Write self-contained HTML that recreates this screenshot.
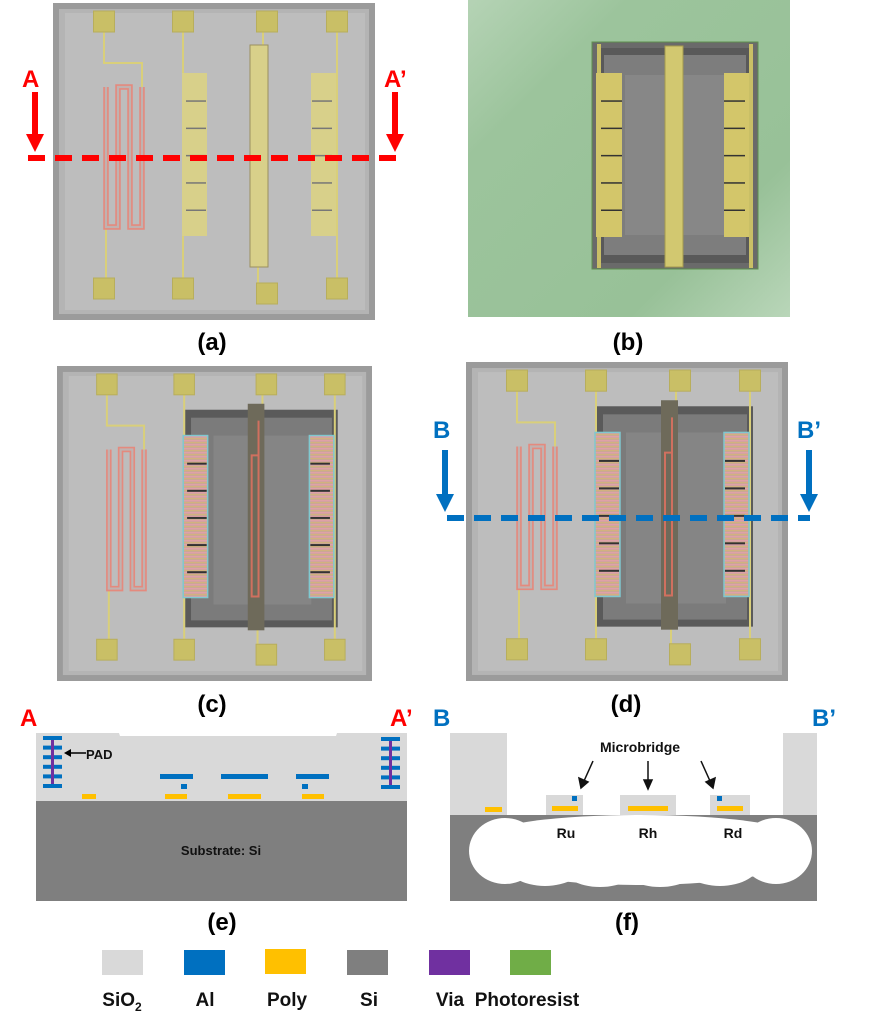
<!DOCTYPE html>
<html><head><meta charset="utf-8"><style>
html,body{margin:0;padding:0;background:#fff}
svg{display:block}
text{font-family:"Liberation Sans",Arial,sans-serif;font-weight:bold}
</style></head><body>
<svg id="s" width="870" height="1017" viewBox="0 0 870 1017" xmlns="http://www.w3.org/2000/svg">
<defs>
<linearGradient id="grn" x1="0" y1="0" x2="1" y2="1">
<stop offset="0" stop-color="#b5d3b5"/><stop offset="0.25" stop-color="#9cc49c"/><stop offset="0.75" stop-color="#98c198"/><stop offset="1" stop-color="#b9d6b9"/></linearGradient>
<pattern id="stripe" width="6" height="4" patternUnits="userSpaceOnUse">
<rect width="6" height="4" fill="#c9a59a"/><rect y="0" width="6" height="1.4" fill="#e0a0a8"/><rect y="2" width="6" height="1.2" fill="#d2b27e"/></pattern>
</defs>
<g id="g"></g>
<text x="212" y="350" font-size="24" text-anchor="middle">(a)</text>
<text x="628" y="350" font-size="24" text-anchor="middle">(b)</text>
<text x="212" y="712" font-size="24" text-anchor="middle">(c)</text>
<text x="626" y="712" font-size="24" text-anchor="middle">(d)</text>
<text x="222" y="930" font-size="24" text-anchor="middle">(e)</text>
<text x="627" y="930" font-size="24" text-anchor="middle">(f)</text>

<g fill="#f00" stroke="none">
<text x="22" y="87" font-size="24" fill="#f00">A</text>
<text x="384" y="87" font-size="24" fill="#f00">A’</text>
<rect x="32" y="92" width="6" height="44"/><polygon points="26,134 44,134 35,152"/>
<rect x="392" y="92" width="6" height="44"/><polygon points="386,134 404,134 395,152"/>
</g>
<line x1="28" y1="158" x2="402" y2="158" stroke="#f00" stroke-width="6" stroke-dasharray="17,10"/>

<g fill="#0070c0">
<text x="433" y="438" font-size="24" fill="#0070c0">B</text>
<text x="797" y="438" font-size="24" fill="#0070c0">B’</text>
<rect x="442" y="450" width="6" height="46"/><polygon points="436,494 454,494 445,512"/>
<rect x="806" y="450" width="6" height="46"/><polygon points="800,494 818,494 809,512"/>
</g>
<line x1="447" y1="518" x2="810" y2="518" stroke="#0070c0" stroke-width="6" stroke-dasharray="17,10"/>

<!-- (e) -->
<text x="20" y="726" font-size="24" fill="#f00">A</text>
<text x="390" y="726" font-size="24" fill="#f00">A’</text>
<polygon points="36,733 119,733 120,736 336,736 337,733 407,733 407,801 36,801" fill="#d9d9d9"/>
<rect x="36" y="801" width="371" height="100" fill="#7f7f7f"/>
<text x="221" y="855" font-size="13" text-anchor="middle" fill="#111">Substrate: Si</text>
<g id="pads"></g>
<g fill="#0070c0">
<rect x="160" y="774" width="33" height="5"/><rect x="221" y="774" width="47" height="5"/><rect x="296" y="774" width="33" height="5"/>
<rect x="181" y="784" width="6" height="5"/><rect x="302" y="784" width="6" height="5"/>
</g>
<g fill="#ffc000">
<rect x="82" y="794" width="14" height="5"/><rect x="165" y="794" width="22" height="5"/><rect x="228" y="794" width="33" height="5"/><rect x="302" y="794" width="22" height="5"/>
</g>
<line x1="86" y1="753" x2="68" y2="753" stroke="#000" stroke-width="1.5"/><polygon points="64,753 71,749 71,757" fill="#000"/>
<text x="86" y="759" font-size="13" fill="#111">PAD</text>

<!-- (f) -->
<text x="433" y="726" font-size="24" fill="#0070c0">B</text>
<text x="812" y="726" font-size="24" fill="#0070c0">B’</text>
<rect x="450" y="733" width="57" height="83" fill="#d9d9d9"/>
<rect x="783" y="733" width="34" height="83" fill="#d9d9d9"/>
<rect x="450" y="815" width="367" height="86" fill="#7f7f7f"/>
<g fill="#fff">
<ellipse cx="640" cy="852" rx="168" ry="33"/>
<ellipse cx="505" cy="851" rx="36" ry="33"/><ellipse cx="776" cy="851" rx="36" ry="33"/>
<ellipse cx="545" cy="862" rx="40" ry="24"/><ellipse cx="600" cy="864" rx="40" ry="23"/>
<ellipse cx="660" cy="864" rx="40" ry="23"/><ellipse cx="720" cy="862" rx="40" ry="24"/>
<ellipse cx="640" cy="835" rx="150" ry="20"/>
</g>
<g fill="#d9d9d9">
<rect x="546" y="795" width="37" height="20"/><rect x="620" y="795" width="56" height="20"/><rect x="710" y="795" width="40" height="20"/>
</g>
<g fill="#ffc000">
<rect x="552" y="806" width="26" height="5"/><rect x="628" y="806" width="40" height="5"/><rect x="717" y="806" width="26" height="5"/><rect x="485" y="807" width="17" height="5"/>
</g>
<g fill="#0070c0"><rect x="572" y="796" width="5" height="5"/><rect x="717" y="796" width="5" height="5"/></g>
<text x="640" y="752" font-size="14" text-anchor="middle" fill="#111">Microbridge</text>
<g stroke="#111" stroke-width="1.5" fill="#111">
<line x1="593" y1="761" x2="584" y2="781"/><polygon points="581,788 579,778 588,782"/>
<line x1="648" y1="761" x2="648" y2="781"/><polygon points="648,789 644,780 652,780"/>
<line x1="701" y1="761" x2="710" y2="781"/><polygon points="713,788 706,782 715,778"/>
</g>
<text x="566" y="838" font-size="14" text-anchor="middle" fill="#111">Ru</text>
<text x="648" y="838" font-size="14" text-anchor="middle" fill="#111">Rh</text>
<text x="733" y="838" font-size="14" text-anchor="middle" fill="#111">Rd</text>

<rect x="102" y="950" width="41" height="25" fill="#d9d9d9"/>
<rect x="184" y="950" width="41" height="25" fill="#0070c0"/>
<rect x="265" y="949" width="41" height="25" fill="#ffc000"/>
<rect x="347" y="950" width="41" height="25" fill="#7f7f7f"/>
<rect x="429" y="950" width="41" height="25" fill="#7030a0"/>
<rect x="510" y="950" width="41" height="25" fill="#70ad47"/>
<g font-size="19" fill="#111" text-anchor="middle">
<text x="122" y="1006">SiO<tspan font-size="12" dy="5">2</tspan></text>
<text x="205" y="1006">Al</text>
<text x="287" y="1006">Poly</text>
<text x="369" y="1006">Si</text>
<text x="450" y="1006">Via</text>
<text x="527" y="1006">Photoresist</text>
</g>
</svg>
<script>
var g=document.getElementById('g'),h='';
function R(x,y,w,hh,f,extra){h+='<rect x="'+x+'" y="'+y+'" width="'+w+'" height="'+hh+'" fill="'+f+'" '+(extra||'')+'/>';}
function L(p,c,w){h+='<polyline points="'+p+'" fill="none" stroke="'+c+'" stroke-width="'+w+'"/>';}
function chip(ox,oy,W,H,mode){
 var sx=W/322,sy=H/317;
 function X(v){return ox+v*sx;} function Y(v){return oy+v*sy;}
 R(ox,oy,W,H,'#9b9b9b');R(X(6),Y(6),W-12*sx,H-12*sy,'#b4b4b4');R(X(12),Y(10),W-22*sx,H-20*sy,'#bdbdbd');
 var yel='#d8d08a',yel2='#c9bf66';
 if(mode!='a'){
  R(X(131),Y(44),156*sx,219*sy,'#5a5a5a');R(X(137),Y(52),144*sx,204*sy,'#7b7b7b');R(X(160),Y(70),100*sx,170*sy,'#858585');
 }
 var tc='#d9cf7a';
 L([X(51),Y(29),X(51),Y(60),X(89),Y(60),X(89),Y(84)].join(','),tc,2);
 L([X(53),Y(224),X(53),Y(278)].join(','),tc,2);
 L([X(130),Y(29),X(130),Y(290)].join(','),tc,2);
 L([X(284),Y(29),X(284),Y(290)].join(','),tc,2);
 L([X(210),Y(29),X(210),Y(45)].join(','),tc,2);
 L([X(205),Y(260),X(205),Y(282)].join(','),tc,2);
 var P=[[89,84],[89,224],[77,224],[77,84],[65,84],[65,224],[53,224],[53,84]];
 var s='';for(var k=0;k<P.length;k++)s+=X(P[k][0])+','+Y(P[k][1])+' ';
 h+='<polyline points="'+s+'" fill="none" stroke="#e48a7e" stroke-width="5.5" stroke-linejoin="miter"/>';
 h+='<polyline points="'+s+'" fill="none" stroke="#c0b2b0" stroke-width="2.2" stroke-linejoin="miter"/>';
 if(mode=='a'){
  R(X(129),Y(70),25*sx,163*sy,yel);R(X(258),Y(70),25*sx,163*sy,yel);
  for(var j=1;j<6;j++){R(X(133),Y(70+j*27.3),20*sx,1.5,'#777');R(X(259),Y(70+j*27.3),20*sx,1.5,'#777');}
  R(X(197),Y(42),18*sx,222*sy,yel,'stroke="#9a9060" stroke-width="1"');
 }else{
  R(X(129),Y(70),25*sx,163*sy,'url(#stripe)','stroke="#7fc8cf" stroke-width="1.5"');
  R(X(258),Y(70),25*sx,163*sy,'url(#stripe)','stroke="#7fc8cf" stroke-width="1.5"');
  for(var j=1;j<6;j++){R(X(133),Y(70+j*27.3),20*sx,2,'#333');R(X(259),Y(70+j*27.3),20*sx,2,'#333');}
  R(X(195),Y(38),17*sx,228*sy,'#6e6a5a');
  h+='<polyline points="'+[X(206),Y(55),X(206),Y(232),X(199),Y(232),X(199),Y(90),X(206),Y(90)].join(',')+'" fill="none" stroke="#d0705f" stroke-width="2"/>';
 }
 var pc=[51,130,214,284];
 for(var i=0;i<4;i++){R(X(pc[i]-10.5),Y(8),21*sx,21*sy,yel2,'stroke="#b8ae5c" stroke-width="1"');
  var by=(i==2)?280:275;R(X(pc[i]-10.5),Y(by),21*sx,21*sy,yel2,'stroke="#b8ae5c" stroke-width="1"');}
}
chip(53,3,322,317,'a');
chip(57,366,315,315,'c');
chip(466,362,322,319,'d');
R(468,0,322,317,'url(#grn)');
R(592,42,166,227,'#6a6a6a','stroke="#5f8f4f" stroke-width="1"');
R(598,48,154,215,'#595959');R(604,55,142,200,'#7d7d7d');R(625,75,100,160,'#878787');
R(597,44,4,224,'#c9bf66');R(749,44,4,224,'#c9bf66');
R(596,73,26,164,'#d3c66a');R(724,73,25,164,'#d3c66a');
for(var j=1;j<6;j++){R(601,73+j*27.3,21,1.5,'#333');R(724,73+j*27.3,21,1.5,'#333');}
R(665,46,18,221,'#d2c870','stroke="#a49a4e" stroke-width="1"');
g.innerHTML=h;h='';
function stack2(x,y,w,n,gap){for(var i=0;i<n;i++)R(x,y+i*gap,w,4,'#0070c0');R(x+w/2-1.5,y+4,3,(n-1)*gap-4,'#7030a0');}
stack2(43,736,19,6,9.6);stack2(381,737,19,6,9.6);
stack2(459,750,24,5,11.5);stack2(789,751,24,5,11.5);
document.getElementById('pads').innerHTML=h;
</script>
</body></html>
